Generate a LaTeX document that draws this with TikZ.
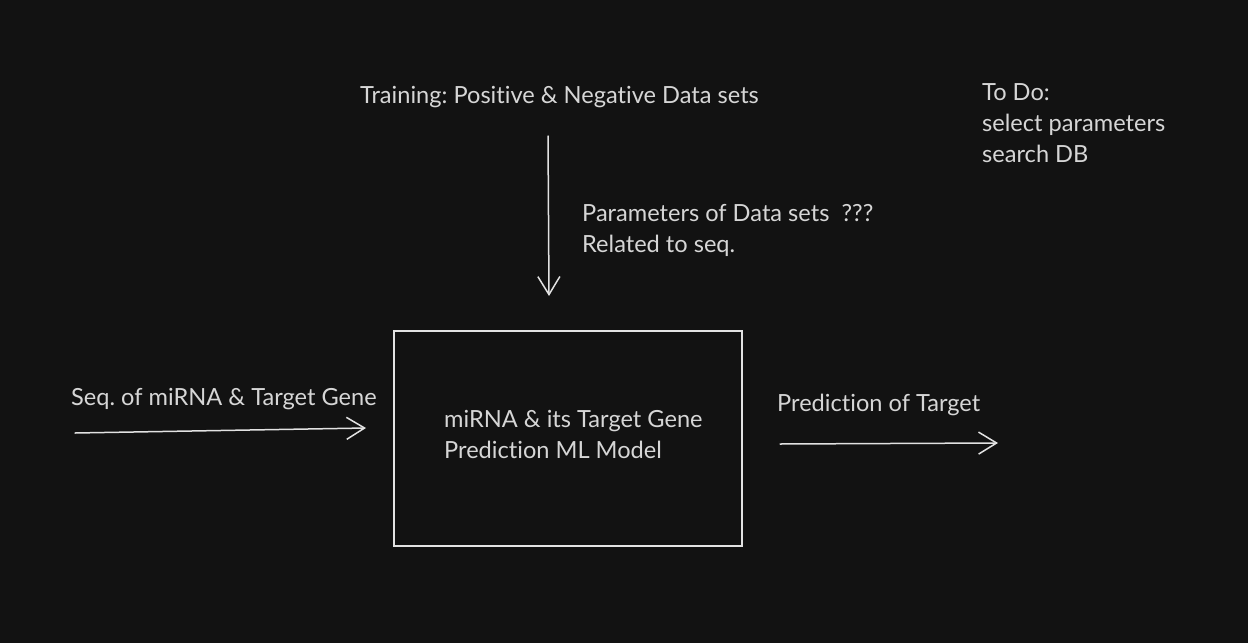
\documentclass[tikz,border=0pt]{standalone}
\usepackage{fontspec}
\setmainfont{Lato}[Ligatures={NoCommon}]
\usetikzlibrary{arrows.meta}
\definecolor{bg}{HTML}{121212}
\definecolor{ink}{HTML}{D6D6D6}
\definecolor{stroke}{HTML}{E2E2E2}
\tikzset{
  lbl/.style={text=ink, inner sep=0pt, anchor=west, align=left, font=\fontsize{23.6}{31}\selectfont},
  conn/.style={draw=stroke, line width=1.5pt, line cap=round, -{Straight Barb[length=18pt,width=22pt,line width=1.5pt]}},
  modelbox/.style={draw=stroke, line width=1.8pt, inner sep=0pt}
}
\frenchspacing
\begin{document}
\begin{tikzpicture}[x=1pt,y=-1pt]
\fill[bg] (0,0) rectangle (1248,643);
\useasboundingbox (0,0) rectangle (1248,643);
\node[lbl] (train) at (360,97) {Training: Positive \& Negative Data sets};
\node[lbl] (params) at (582,230.5) {Parameters of Data sets\ \ ???\\Related to seq.};
\node[lbl] (todo) at (982,123) {To Do:\\select parameters\\search DB};
\node[modelbox, minimum width=348pt, minimum height=215pt] (model) at (568,438.5) {};
\node[lbl] (mtext) at (444,434.5) {miRNA \& its Target Gene\\Prediction ML Model};
\node[lbl] (seq) at (71,399) {Seq. of miRNA \& Target Gene};
\node[lbl] (pred) at (777,405) {Prediction of Target};
\coordinate (a1s) at (548,136);
\coordinate (a1e) at (549,296);
\coordinate (a2s) at (75,433);
\coordinate (a2e) at (366,428);
\coordinate (a3s) at (780,444);
\coordinate (a3e) at (998,443);
\draw[conn] (a1s) -- (a1e);
\draw[conn] (a2s) -- (a2e);
\draw[conn] (a3s) -- (a3e);
\end{tikzpicture}
\end{document}
